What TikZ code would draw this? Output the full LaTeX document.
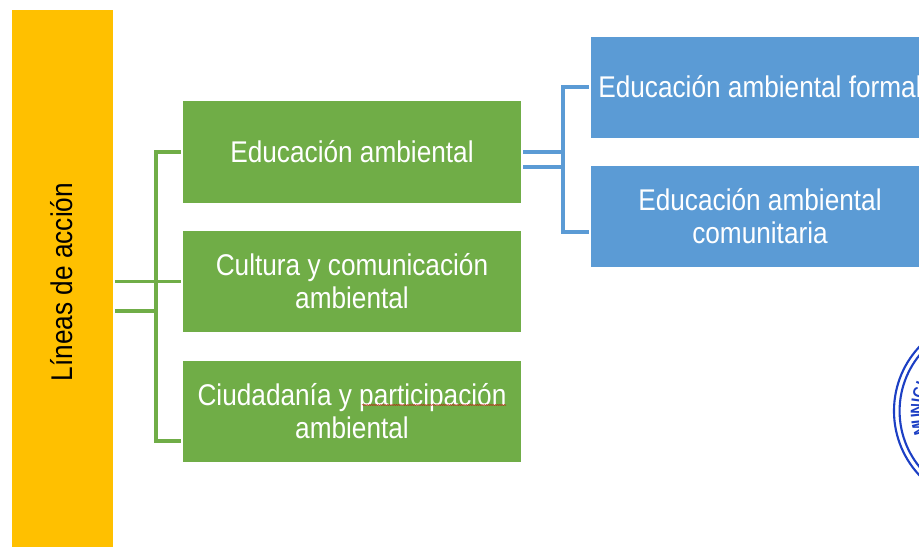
\documentclass[tikz,border=0pt]{standalone}
\usepackage{fontspec}
\setmainfont[FakeStretch=0.875]{Liberation Sans}
\usepackage{tikz}
\usetikzlibrary{decorations.pathmorphing}
\definecolor{linea yellow}{HTML}{FFC000}
\definecolor{linea green}{HTML}{70AD47}
\definecolor{linea blue}{HTML}{5B9BD5}
\definecolor{seal blue}{HTML}{1C3FC4}

\begin{document}
\begin{tikzpicture}[
		x=0.025cm, y=-0.025cm,
		every node/.style={rectangle, inner sep=0pt, outer sep=1.4pt, align=center, text=white,
			font=\fontsize{21.3}{23.6}\selectfont},
		box/.style={minimum width=8.45cm, minimum height=2.525cm},
		greenbox/.style={box, fill=linea green},
		bluebox/.style={box, fill=linea blue},
		greenline/.style={draw=linea green, line width=2.15pt},
		blueline/.style={draw=linea blue, line width=2.15pt},
		sealline/.style={draw=seal blue, line width=1.5pt},
		sealletter/.style={text=seal blue, outer sep=0pt, anchor=north,
			font=\fontsize{12}{14}\bfseries\selectfont}
	]
  \useasboundingbox (0,0) rectangle (919,546);
  \clip (0,0) rectangle (919,546);
  \node (lineas) [rotate=90, fill=linea yellow, text=black, minimum width=13.6cm, minimum height=2.525cm] at (62.5,282) {\raisebox{1.4pt}{Líneas de acción}};
  \node (educacion) [greenbox] at (352,152) {Educación ambiental};
  \node (cultura) [greenbox] at (352,281.5) {Cultura y comunicación\\ambiental};
  \node (ciudadania) [greenbox] at (352,411.5) {Ciudadanía y participación\\ambiental};
  \node (formal) [bluebox] at (760,87.5) {\raisebox{1pt}{Educación ambiental formal}};
  \node (comunitaria) [bluebox] at (760,216.5) {Educación ambiental\\comunitaria};
  % green connectors
  \coordinate (green_top) at (156,152);
  \coordinate (green_bottom) at (156,441);
  \coordinate (green_low) at (156,311);
  \coordinate (ciudadania_in) at (181,441);
  \draw [greenline, line cap=rect] (green_top) -- (green_bottom);
  \draw [greenline] (green_top) -- (educacion.west);
  \draw [greenline] (green_bottom) -- (ciudadania_in);
  \draw [greenline] (lineas.south |- cultura.west) -- (cultura.west);
  \draw [greenline] (lineas.south |- green_low) -- (green_low);
  % blue connectors
  \coordinate (blue_top) at (563,87);
  \coordinate (blue_bottom) at (563,232);
  \coordinate (blue_low) at (563,167);
  \coordinate (blue_high) at (563,152);
  \coordinate (comunitaria_in) at (589,232);
  \draw [blueline, line cap=rect] (blue_top) -- (blue_bottom);
  \draw [blueline] (blue_top) -- (blue_top -| formal.west);
  \draw [blueline] (blue_bottom) -- (comunitaria_in);
  \draw [blueline] (educacion.east) -- (blue_high);
  \draw [blueline] (educacion.east |- blue_low) -- (blue_low);
  % spelling mark under the word
  \coordinate (squiggle_a) at (362,405);
  \coordinate (squiggle_b) at (506,405);
  \draw [red!80!black, line width=0.35pt, decorate, decoration={snake, amplitude=0.3pt, segment length=1.6pt}] (squiggle_a) -- (squiggle_b);
  % seal at the right edge
  \coordinate (seal) at (988,411);
  \draw [sealline] (seal) circle [radius=2.35cm];
  \draw [sealline] (seal) circle [radius=2.21cm];
  \foreach \letter/\ang in {M/195, U/186, N/178, I/172, C/165, I/158}
    \node [sealletter, rotate=\ang-90] at ([shift={(\ang:1.93cm)}]seal) {\letter};
\end{tikzpicture}
\end{document}
